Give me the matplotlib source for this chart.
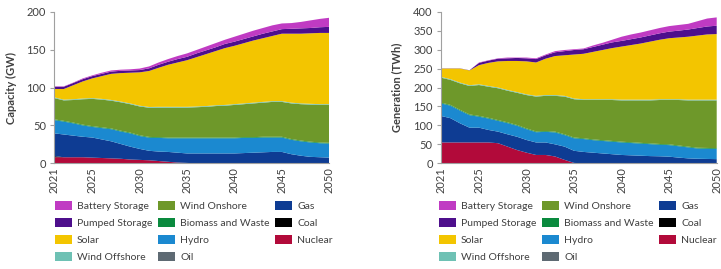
import matplotlib
matplotlib.use("Agg")
import matplotlib.pyplot as plt
from matplotlib.patches import Patch
import numpy as np

years = list(range(2021, 2051))

tech_names = ["Nuclear", "Coal", "Gas", "Oil", "Hydro", "Biomass and Waste",
              "Wind Onshore", "Wind Offshore", "Solar", "Pumped Storage", "Battery Storage"]

# ---- Capacity (GW) ----
cap_nuclear = [8, 8, 8, 8, 7.5, 7, 6.5, 6, 5, 4.5, 4, 3, 2, 1, 0.5] + [0] * 15
cap_coal = [1.5] + [0] * 29
cap_gas = [30, 30, 28.5, 27, 26.5, 24.5, 22.5, 19.5, 17, 14.5, 12.5, 12.5, 13, 13, 12.5,
           13, 13, 13, 13, 13, 13.5, 14, 14.5, 15, 15, 12, 10, 8.5, 8, 7.5]
cap_oil = [0] * 30
cap_hydro = [17.5, 17, 16.2, 15, 14, 15, 16, 16.5, 17.5, 17, 17.3, 18, 18, 19, 20,
             20, 20, 20, 20, 20, 20, 19.5, 19.5, 19, 19, 19, 19, 19, 18.5, 18.5]
cap_biomass = [1] * 30
cap_onshore = [28, 27, 29.8, 33.5, 36, 36.5, 36.6, 37.5, 37.5, 38, 38.5, 39, 39.5, 39.5, 39.5,
               40, 40.5, 41.5, 42, 43, 43.5, 44.5, 45, 46, 46, 47, 48, 49, 49.5, 50]
cap_offshore = [1] * 30
cap_solar = [11, 14, 18.5, 22.5, 26, 30, 34.4, 37.5, 40.5, 44, 47.5, 51.5, 55.5, 58.5, 61.5,
             65, 68.5, 71.5, 75, 77, 79.5, 82, 84, 86, 89, 91, 92, 93, 94, 94]
cap_pumped = [3, 3, 3, 3, 3, 3, 3, 3, 3, 3, 3.5, 4, 4, 4.5, 4.5,
              5, 5, 5, 5.5, 5.5, 5.5, 5.5, 6, 6, 6, 6.5, 7, 7, 7.5, 8]
cap_battery = [0.5, 0.5, 0.5, 1, 1, 1.5, 1.5, 1.5, 1.5, 2, 2.5, 3, 3.5, 4, 4.5,
               4.5, 5, 5.5, 5.5, 6.5, 7, 7.5, 7.5, 8, 7.5, 7.5, 8.5, 10, 11, 12]

# ---- Generation (TWh) ----
gen_nuclear = [55, 55, 55, 55, 55, 55, 53, 44, 35, 28, 22, 22, 18, 9, 1] + [0] * 15
gen_coal = [0] * 30
gen_gas = [70, 64, 50.5, 39, 39, 33, 30.5, 32.5, 35, 33.5, 33, 33, 32, 35, 32,
           30, 28, 26, 24, 22, 21, 20, 19, 18.5, 17.5, 15, 13, 12, 11.5, 11]
gen_oil = [0] * 30
gen_hydro = [33, 33, 33.5, 33, 29, 30, 28.5, 29.5, 29, 28.5, 27, 28, 31.5, 30.5, 33,
             34, 33, 33, 33, 33, 32.5, 32, 31.5, 30.5, 30.5, 30, 29, 27, 27, 27]
gen_biomass = [2] * 30
gen_onshore = [66, 66, 70, 75, 81.5, 82, 84, 83.5, 85, 88, 92, 93, 94.5, 99.5, 101,
               101, 104, 106, 108, 109, 110.5, 112, 113.5, 116, 117, 120, 122, 125, 125.5, 126]
gen_offshore = [2] * 30
gen_solar = [22, 28, 37, 39, 50.5, 61, 69, 76.5, 82, 87, 88, 96, 103, 107, 116,
             120, 125, 130, 135, 140, 144, 148, 153, 157, 161, 163, 166, 169, 172, 173]
gen_pumped = [0.5, 0.5, 0.5, 0.5, 6, 6, 7, 7, 8, 8, 9, 9, 10, 11, 12,
              12, 13, 14, 15, 15, 15.5, 16, 16.5, 17, 17.5, 18, 19, 20, 21, 22]
gen_battery = [0, 0, 0, 0, 1, 1, 1, 2, 1, 2, 2, 2, 3, 3, 2,
               2, 4, 5, 7, 11, 12.5, 13, 13.5, 14, 14.5, 15, 15, 18, 21, 22]

colors = {
    "Battery Storage": "#C03BC3",
    "Pumped Storage": "#4E0F8C",
    "Solar": "#F3C500",
    "Wind Offshore": "#6EC1B4",
    "Wind Onshore": "#6E982A",
    "Biomass and Waste": "#0A8A3E",
    "Hydro": "#1B89D0",
    "Oil": "#5E6A73",
    "Gas": "#0E3C93",
    "Coal": "#000000",
    "Nuclear": "#B20A3A",
}

cap_series = [cap_nuclear, cap_coal, cap_gas, cap_oil, cap_hydro, cap_biomass,
              cap_onshore, cap_offshore, cap_solar, cap_pumped, cap_battery]
gen_series = [gen_nuclear, gen_coal, gen_gas, gen_oil, gen_hydro, gen_biomass,
              gen_onshore, gen_offshore, gen_solar, gen_pumped, gen_battery]

legend_order = ["Battery Storage", "Pumped Storage", "Solar", "Wind Offshore",
                "Wind Onshore", "Biomass and Waste", "Hydro", "Oil",
                "Gas", "Coal", "Nuclear"]

xticks = [2021, 2025, 2030, 2035, 2040, 2045, 2050]

plt.rcParams['font.family'] = ['Lato', 'DejaVu Sans']
text_col = "#404040"
spine_col = "#A0A0A0"

fig = plt.figure(figsize=(7.21, 2.69), dpi=100)
W, H = 721, 269


def make_ax(x0, x1, y_top, y_bot):
    return fig.add_axes([x0 / W, (H - y_bot) / H, (x1 - x0) / W, (y_bot - y_top) / H])


ax1 = make_ax(54.3, 329.3, 11.7, 163.3)
ax2 = make_ax(441, 716.7, 11.7, 163.3)


def style(ax, series, ymax, ystep, ylabel, labelx):
    ax.stackplot(years, *series, labels=tech_names,
                 colors=[colors[n] for n in tech_names], linewidth=0, edgecolor="none")
    ax.set_xlim(2021, 2050)
    ax.set_ylim(0, ymax)
    ax.set_yticks(np.arange(0, ymax + 1, ystep))
    ax.set_xticks(xticks)
    ax.set_xticklabels([str(x) for x in xticks], rotation=90)
    for s in ["top", "right"]:
        ax.spines[s].set_visible(False)
    for s in ["left", "bottom"]:
        ax.spines[s].set_color(spine_col)
        ax.spines[s].set_linewidth(0.8)
    ax.tick_params(axis="y", colors=spine_col, labelcolor=text_col, labelsize=8,
                   length=3, width=0.8, pad=3)
    ax.tick_params(axis="x", colors=spine_col, labelcolor=text_col, labelsize=8,
                   length=0, pad=3)
    ax.set_ylabel(ylabel, fontsize=8, fontweight="bold", color=text_col)
    ax.yaxis.set_label_coords(labelx, 0.5)


style(ax1, cap_series, 200, 50, "Capacity (GW)", -0.137)
style(ax2, gen_series, 400, 50, "Generation (TWh)", -0.14)


def add_legend(x_left, y_top):
    handles = [Patch(facecolor=colors[n], edgecolor="none") for n in legend_order]
    fig.legend(handles, legend_order, loc="upper left",
               bbox_to_anchor=(x_left / W, (H - y_top) / H), bbox_transform=fig.transFigure,
               ncol=3, frameon=False, fontsize=7.5, handlelength=1.63, handleheight=0.9,
               handletextpad=0.48, labelspacing=0.67, columnspacing=0.55, borderpad=0,
               borderaxespad=0, labelcolor=text_col)


add_legend(55, 201.5)
add_legend(439, 201.5)

fig.savefig("out.png", dpi=100)
